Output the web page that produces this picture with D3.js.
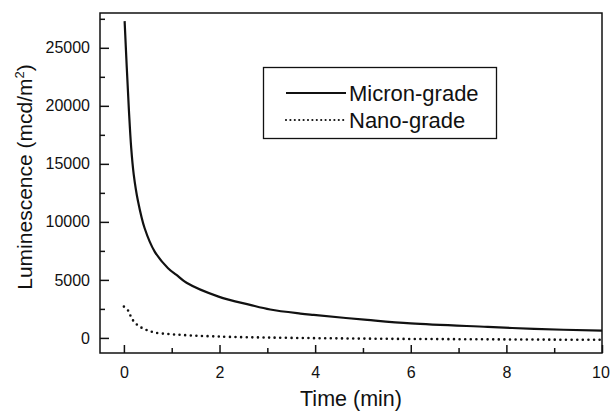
<!DOCTYPE html>
<html>
<head>
<meta charset="utf-8">
<script src="https://cdn.jsdelivr.net/npm/d3@7"></script>
<style>
  body { margin: 0; background: #fff; }
  svg { display: block; font-family: "Liberation Sans", Arial, sans-serif; }
</style>
</head>
<body>
<div id="chart"></div>
<script>
// Time (min) and luminescence (mcd/m2)
var micronTime = [0.015, 0.06, 0.105, 0.153, 0.205, 0.294, 0.434, 0.644, 0.923, 1.10, 1.31, 1.98, 2.64, 3.06, 3.69, 3.97, 5.09, 6.00, 7.61, 8.58, 10.0];
var micronLum  = [27300, 23300, 19600, 16350, 14100, 11800, 9450, 7440, 6010, 5430, 4750, 3560, 2850, 2450, 2100, 1980, 1550, 1250, 950, 780, 620];

var nanoTime = [0.0, 0.09, 0.14, 0.21, 0.31, 0.42, 0.53, 0.65, 0.82, 1.10, 1.45, 1.80, 2.20, 3.0, 4.0, 5.0, 6.0, 7.0, 8.0, 9.0, 9.95];
var nanoLum  = [2700, 2350, 1900, 1400, 1030, 775, 600, 460, 370, 285, 200, 145, 90, 30, -20, -60, -90, -110, -130, -150, -160];

var xTicks = [0, 2, 4, 6, 8, 10];
var xMinor = [1, 3, 5, 7, 9];
var yTicks = [0, 5000, 10000, 15000, 20000, 25000];
var yMinor = [2500, 7500, 12500, 17500, 22500, 27500];

var seriesNames = ["Micron-grade", "Nano-grade"];

var width = 610, height = 412;
var margin = {left: 100, top: 13, right: 8, bottom: 59};

var svg = d3.select("#chart").append("svg")
    .attr("width", width)
    .attr("height", height);

var x = d3.scaleLinear().domain([-0.5, 10]).range([margin.left, width - margin.right]);
var y = d3.scaleLinear().domain([-1300, 28000]).range([height - margin.bottom, margin.top]);

var zip = function(a, b) { return a.map(function(v, i) { return [v, b[i]]; }); };

var line = d3.line()
    .x(function(d) { return x(d[0]); })
    .y(function(d) { return y(d[1]); })
    .curve(d3.curveCatmullRom.alpha(0.5));

// curves
svg.append("path")
    .datum(zip(micronTime, micronLum))
    .attr("d", line)
    .attr("fill", "none")
    .attr("stroke", "#111")
    .attr("stroke-width", 2.2);

svg.append("path")
    .datum(zip(nanoTime, nanoLum))
    .attr("d", line)
    .attr("fill", "none")
    .attr("stroke", "#111")
    .attr("stroke-width", 2.6)
    .attr("stroke-linecap", "round")
    .attr("stroke-dasharray", "0 5.6");

// axes, ticks pointing inward
var bottom = svg.append("g").attr("transform", "translate(0," + (height - margin.bottom) + ")");
bottom.call(d3.axisBottom(x).tickValues(xTicks).tickSize(-8).tickPadding(14).tickFormat(d3.format("d")));
bottom.append("g").call(d3.axisBottom(x).tickValues(xMinor).tickSize(-5).tickFormat(""));

var left = svg.append("g").attr("transform", "translate(" + margin.left + ",0)");
left.call(d3.axisLeft(y).tickValues(yTicks).tickSize(-9).tickPadding(10).tickFormat(d3.format("d")));
left.append("g").call(d3.axisLeft(y).tickValues(yMinor).tickSize(-5).tickFormat(""));

svg.selectAll(".domain").remove();
svg.selectAll(".tick line").attr("stroke", "#111").attr("stroke-width", 1.5);
svg.selectAll(".tick text").attr("fill", "#111").style("font-size", "16px");
// keep the last x label inside the window
bottom.selectAll(".tick text").filter(function(d) { return d === 10; }).attr("dx", -1.5);

// frame
svg.append("rect")
    .attr("x", margin.left)
    .attr("y", margin.top)
    .attr("width", width - margin.left - margin.right)
    .attr("height", height - margin.top - margin.bottom)
    .attr("fill", "none")
    .attr("stroke", "#111")
    .attr("stroke-width", 1.5);

// axis titles
svg.append("text")
    .attr("x", (margin.left + width - margin.right) / 2)
    .attr("y", 406)
    .attr("text-anchor", "middle")
    .attr("fill", "#111")
    .style("font-size", "21.5px")
    .text("Time (min)");

var yt = svg.append("text")
    .attr("transform", "translate(32,177) rotate(-90)")
    .attr("text-anchor", "middle")
    .attr("fill", "#111")
    .style("font-size", "21px");
yt.append("tspan").text("Luminescence (mcd/m");
yt.append("tspan").attr("dy", -8).style("font-size", "13px").text("2");
yt.append("tspan").attr("dy", 8).text(")");

// legend
var legend = svg.append("g");
legend.append("rect")
    .attr("x", 263.5).attr("y", 67.5)
    .attr("width", 233).attr("height", 71)
    .attr("fill", "#fff")
    .attr("stroke", "#111")
    .attr("stroke-width", 1.3);

var rows = legend.selectAll(".row")
    .data(seriesNames)
    .enter().append("g")
    .attr("class", "row")
    .attr("transform", function(d, i) { return "translate(0," + (93 + i * 27) + ")"; });

rows.append("line")
    .attr("x1", 286).attr("x2", 346)
    .attr("stroke", "#111")
    .attr("stroke-width", 2.2)
    .attr("stroke-linecap", function(d, i) { return i === 0 ? "butt" : "round"; })
    .attr("stroke-dasharray", function(d, i) { return i === 0 ? null : "0 4.4"; });

rows.append("text")
    .attr("x", 349)
    .attr("y", 7.5)
    .attr("fill", "#111")
    .style("font-size", "22px")
    .text(function(d) { return d; });
</script>
</body>
</html>
